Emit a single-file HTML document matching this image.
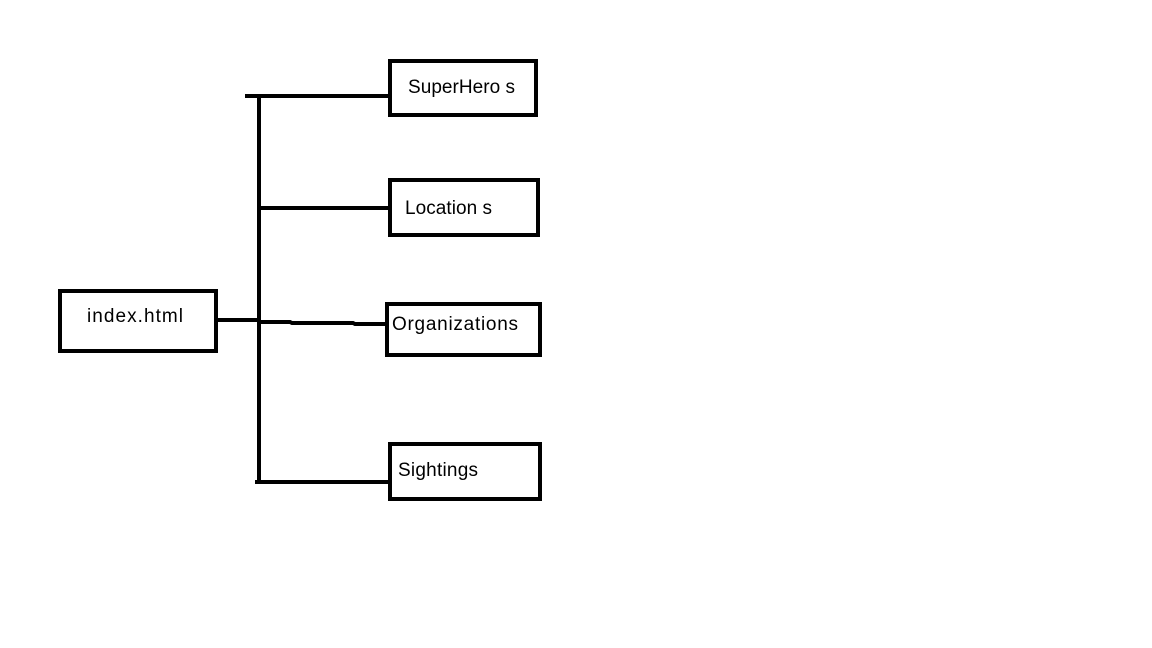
<!DOCTYPE html>
<html><head><meta charset="utf-8"><style>
html,body{margin:0;padding:0;background:#fff;width:1152px;height:648px;overflow:hidden}
svg text{font-family:"Liberation Sans",sans-serif;font-size:19px;fill:#000}
</style></head><body>
<svg width="1152" height="648" xmlns="http://www.w3.org/2000/svg">
<g fill="none" stroke="#000" stroke-width="4">
<rect x="60" y="291" width="156" height="60"/>
<rect x="390" y="61" width="146" height="54"/>
<rect x="390" y="180" width="148" height="55"/>
<rect x="387" y="304" width="153" height="51"/>
<rect x="390" y="444" width="150" height="55"/>
<line x1="259" y1="96" x2="259" y2="482"/>
<line x1="245" y1="96" x2="390" y2="96"/>
<line x1="259" y1="208" x2="390" y2="208"/>
<line x1="216" y1="320" x2="259" y2="320"/>
<polyline points="259,322 290,322 292,323 353,323 355,324 387,324"/>
<line x1="255" y1="482" x2="392" y2="482"/>
</g>
<text x="87" y="322" textLength="96" lengthAdjust="spacing">index.html</text>
<text x="408" y="93" textLength="107" lengthAdjust="spacing">SuperHero s</text>
<text x="405" y="214" textLength="87" lengthAdjust="spacing">Location s</text>
<text x="392" y="330" textLength="126" lengthAdjust="spacing">Organizations</text>
<text x="398" y="476" textLength="80" lengthAdjust="spacing">Sightings</text>
</svg>
</body></html>
